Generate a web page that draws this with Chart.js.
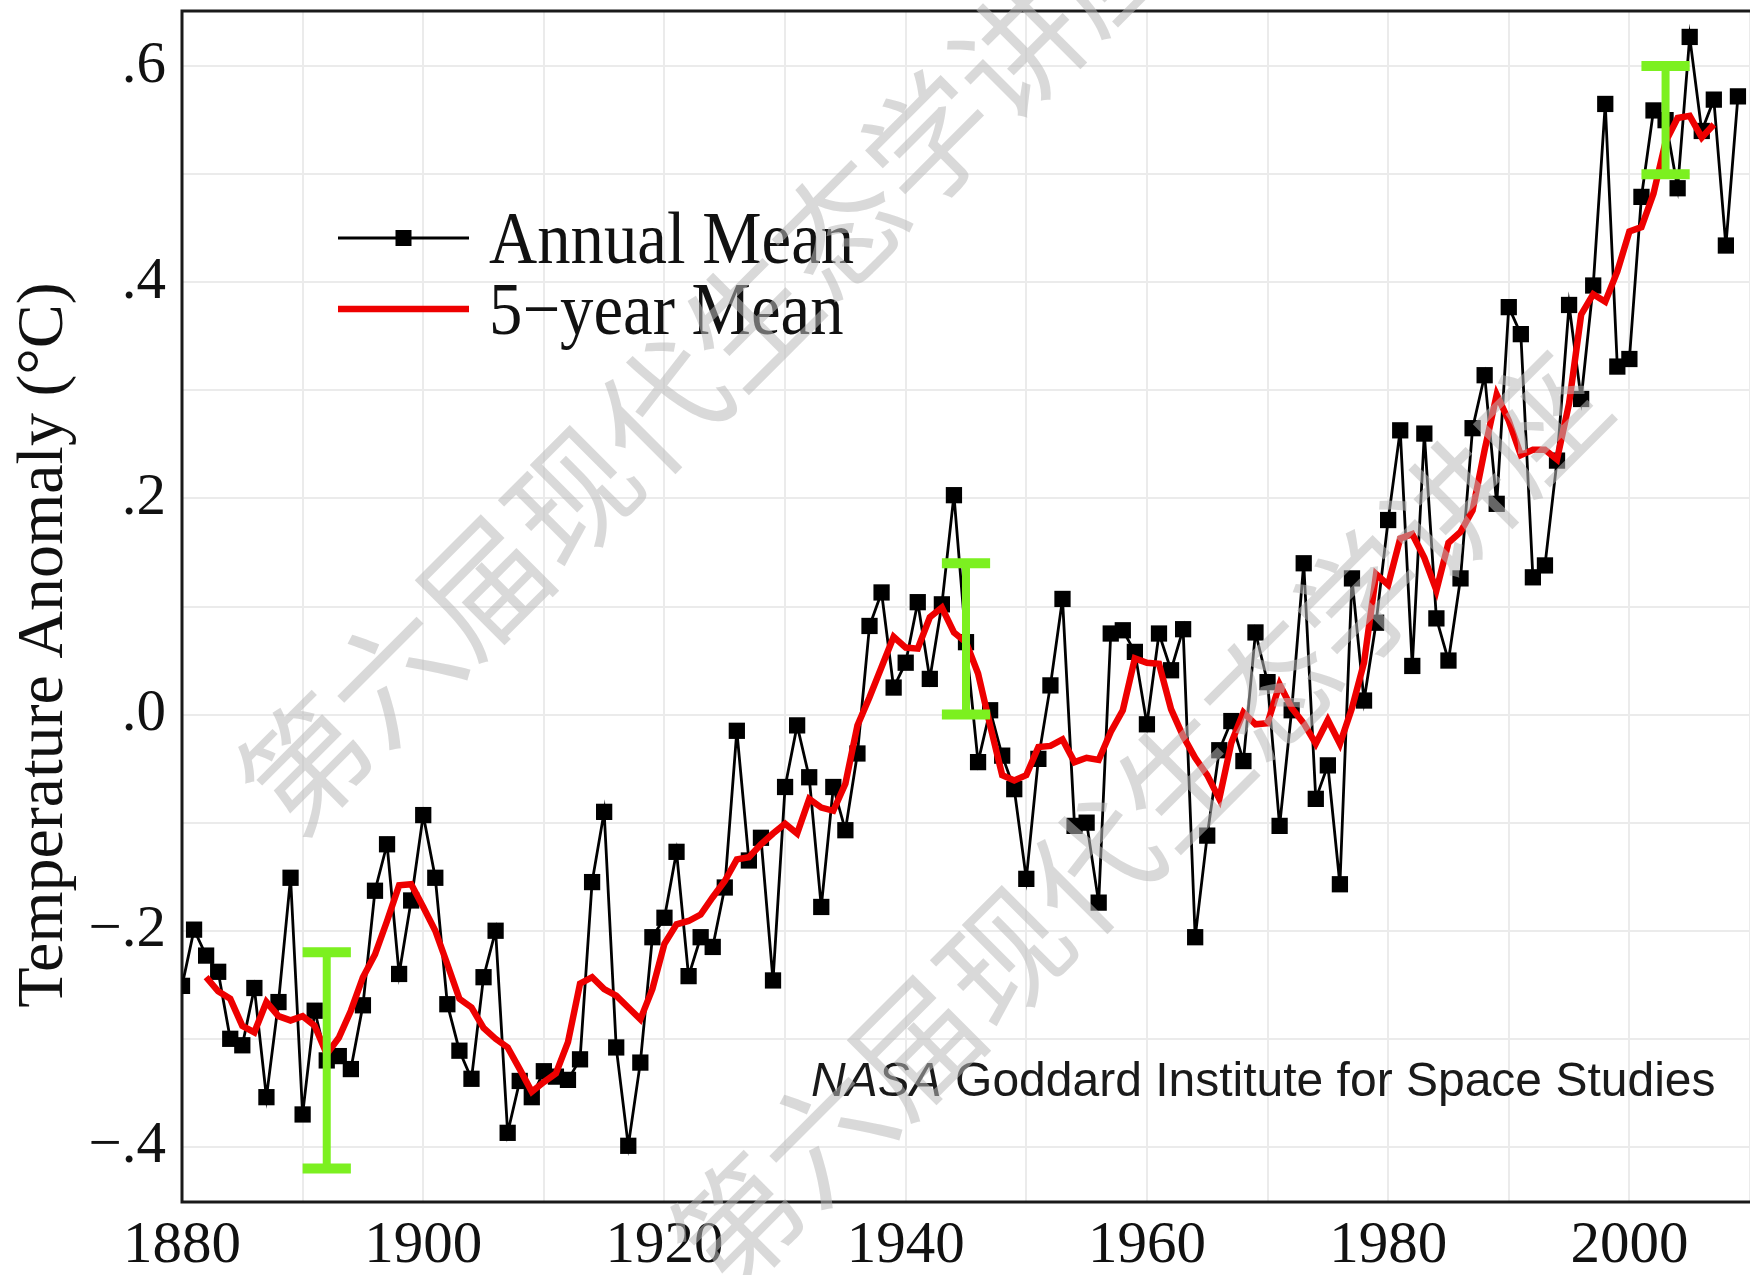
<!DOCTYPE html>
<html>
<head>
<meta charset="utf-8">
<title>Global Temperature Anomaly</title>
<script src="https://cdn.jsdelivr.net/npm/chart.js@4.4.1/dist/chart.umd.min.js"></script>
<style>
  html, body { margin: 0; padding: 0; background: #fff; }
  #wrap { width: 1750px; height: 1275px; }
</style>
</head>
<body>
<div id="wrap"><canvas id="tempChart" width="1750" height="1275"></canvas></div>
<script>
// Annual mean, one value per year starting 1880
const annualStart = 1880;
const annualMean = [
  -0.251, -0.199, -0.223, -0.238, -0.300, -0.306, -0.253, -0.354, -0.266, -0.151,
  -0.370, -0.274, -0.320, -0.316, -0.328, -0.269, -0.163, -0.120, -0.240, -0.172,
  -0.093, -0.151, -0.268, -0.311, -0.337, -0.243, -0.200, -0.387, -0.339, -0.354,
  -0.330, -0.335, -0.338, -0.319, -0.155, -0.090, -0.308, -0.399, -0.322, -0.206,
  -0.188, -0.127, -0.242, -0.206, -0.215, -0.160, -0.015, -0.135, -0.114, -0.246,
  -0.067, -0.010, -0.058, -0.178, -0.067, -0.107, -0.036, 0.082, 0.113, 0.025,
  0.048, 0.104, 0.033, 0.102, 0.203, 0.067, -0.044, 0.004, -0.038, -0.069,
  -0.152, -0.041, 0.027, 0.107, -0.103, -0.100, -0.174, 0.075, 0.078, 0.058,
  -0.009, 0.075, 0.041, 0.079, -0.206, -0.112, -0.033, -0.006, -0.043, 0.076,
  0.030, -0.103, 0.004, 0.140, -0.078, -0.047, -0.157, 0.126, 0.013, 0.085,
  0.180, 0.263, 0.045, 0.260, 0.089, 0.050, 0.126, 0.265, 0.314, 0.195,
  0.377, 0.352, 0.127, 0.138, 0.235, 0.379, 0.292, 0.397, 0.565, 0.322,
  0.329, 0.479, 0.559, 0.550, 0.487, 0.627, 0.540, 0.569, 0.434, 0.572
];

// 5-year mean, starting 1882
const fiveYearStart = 1882;
const fiveYearMean = [
  -0.243, -0.256, -0.263, -0.288, -0.294, -0.266, -0.279, -0.283,
  -0.279, -0.288, -0.314, -0.299, -0.274, -0.243, -0.222, -0.191, -0.158, -0.157,
  -0.178, -0.200, -0.231, -0.263, -0.271, -0.290, -0.300, -0.308, -0.328, -0.349,
  -0.340, -0.332, -0.303, -0.249, -0.243, -0.254, -0.260, -0.271, -0.282, -0.254,
  -0.212, -0.194, -0.191, -0.185, -0.169, -0.154, -0.134, -0.132, -0.120, -0.110,
  -0.101, -0.110, -0.078, -0.086, -0.089, -0.064, -0.010, 0.016, 0.044, 0.072,
  0.062, 0.061, 0.090, 0.099, 0.076, 0.067, 0.038, -0.010, -0.056, -0.061,
  -0.056, -0.030, -0.029, -0.023, -0.044, -0.040, -0.042, -0.016, 0.004, 0.052,
  0.048, 0.047, 0.005, -0.020, -0.040, -0.056, -0.078, -0.026, 0.002, -0.009,
  -0.008, 0.028, 0.006, -0.008, -0.027, -0.005, -0.027, 0.006, 0.048, 0.130,
  0.120, 0.163, 0.167, 0.145, 0.115, 0.159, 0.169, 0.189, 0.245, 0.296,
  0.272, 0.240, 0.245, 0.245, 0.236, 0.288, 0.370, 0.389, 0.382, 0.410,
  0.447, 0.451, 0.482, 0.530, 0.552, 0.554, 0.534, 0.546
];

// uncertainty bars
const errorYears = [1892, 1945, 2003];
const errorLow = [-0.42, 0.0, 0.5];
const errorHigh = [-0.22, 0.14, 0.6];

const xGridYears = [1880, 1890, 1900, 1910, 1920, 1930, 1940, 1950, 1960, 1970, 1980, 1990, 2000, 2010];
const xLabelYears = [1880, 1900, 1920, 1940, 1960, 1980, 2000];
const yGridValues = [-0.4, -0.3, -0.2, -0.1, 0, 0.1, 0.2, 0.3, 0.4, 0.5, 0.6];
const yLabelValues = [-0.4, -0.2, 0, 0.2, 0.4, 0.6];
const yTickLabels = ["\u2212.4", "\u2212.2", ".0", ".2", ".4", ".6"];

const seriesNames = ["Annual Mean", "5\u2212year Mean"];
const yTitle = "Temperature Anomaly (\u00b0C)";
const creditItalic = "NASA";
const creditRest = " Goddard Institute for Space Studies";
const watermarkText = "第六届现代生态学讲座";

const serif = "'Liberation Serif', 'Times New Roman', serif";
const sans = "'Liberation Sans', Arial, sans-serif";

document.addEventListener("DOMContentLoaded", () => {
    // box around the plot (right side runs off the picture)
    const framePlugin = {
        id: "frame",
        beforeDatasetsDraw(chart) {
            const { ctx, chartArea: a } = chart;
            ctx.save();
            ctx.strokeStyle = "#1a1a1a";
            ctx.lineWidth = 3;
            ctx.beginPath();
            ctx.moveTo(a.right + 5, a.top);
            ctx.lineTo(a.left, a.top);
            ctx.lineTo(a.left, a.bottom);
            ctx.lineTo(a.right + 5, a.bottom);
            ctx.stroke();
            ctx.restore();
        }
    };

    const errorBarPlugin = {
        id: "errorBars",
        afterDatasetsDraw(chart) {
            const { ctx, scales: { x, y } } = chart;
            ctx.save();
            ctx.strokeStyle = "#7cf020";
            errorYears.forEach((yr, i) => {
                const px = x.getPixelForValue(yr);
                const top = y.getPixelForValue(errorHigh[i]);
                const bot = y.getPixelForValue(errorLow[i]);
                const half = x.getPixelForValue(yr + 2) - px;
                ctx.lineWidth = 8;
                ctx.beginPath();
                ctx.moveTo(px, top);
                ctx.lineTo(px, bot);
                ctx.stroke();
                ctx.lineWidth = 10;
                ctx.beginPath();
                ctx.moveTo(px - half, top);
                ctx.lineTo(px + half, top);
                ctx.moveTo(px - half, bot);
                ctx.lineTo(px + half, bot);
                ctx.stroke();
            });
            ctx.restore();
        }
    };

    // legend, credit line, axis title and watermark
    const textPlugin = {
        id: "texts",
        afterDraw(chart) {
            const { ctx, chartArea: a } = chart;
            ctx.save();

            // legend inside the plot
            const rows = [a.top + 227, a.top + 298];
            const x0 = a.left + 156, x1 = a.left + 287;
            ctx.strokeStyle = "#000";
            ctx.lineWidth = 3;
            ctx.beginPath();
            ctx.moveTo(x0, rows[0]);
            ctx.lineTo(x1, rows[0]);
            ctx.stroke();
            ctx.fillStyle = "#000";
            ctx.fillRect((x0 + x1) / 2 - 8, rows[0] - 8, 16, 16);
            ctx.strokeStyle = "#ee0000";
            ctx.lineWidth = 6.5;
            ctx.beginPath();
            ctx.moveTo(x0, rows[1]);
            ctx.lineTo(x1, rows[1]);
            ctx.stroke();

            ctx.fillStyle = "#111";
            ctx.font = "75px " + serif;
            ctx.textAlign = "left";
            ctx.textBaseline = "alphabetic";
            seriesNames.forEach((name, i) => {
                ctx.save();
                ctx.translate(a.left + 307, rows[i] + 25);
                ctx.scale(0.89, 1);
                ctx.fillText(name, 0, 0);
                ctx.restore();
            });

            // credit line
            ctx.font = "italic 48px " + sans;
            const cx = a.left + 629, cy = a.bottom - 106;
            ctx.fillStyle = "#1a1a1a";
            ctx.fillText(creditItalic, cx, cy);
            const w = ctx.measureText(creditItalic).width;
            ctx.font = "48px " + sans;
            ctx.fillText(creditRest, cx + w, cy);

            // y axis title
            ctx.save();
            ctx.translate(45, 645);
            ctx.rotate(-Math.PI / 2);
            ctx.font = "66px " + serif;
            ctx.textAlign = "center";
            ctx.textBaseline = "middle";
            ctx.fillStyle = "#111";
            ctx.fillText(yTitle, 0, 0);
            ctx.restore();

            // watermark
            ctx.font = "126px 'Noto Sans CJK SC', sans-serif";
            ctx.fillStyle = "rgba(186, 186, 186, 0.55)";
            ctx.textAlign = "center";
            ctx.textBaseline = "middle";
            [[706, 362], [1138, 822]].forEach(([wx, wy]) => {
                ctx.save();
                ctx.translate(wx, wy);
                ctx.rotate(-Math.PI / 4);
                ctx.fillText(watermarkText, 0, 0);
                ctx.restore();
            });

            ctx.restore();
        }
    };

    const ctx = document.getElementById("tempChart").getContext("2d");
    new Chart(ctx, {
        type: "line",
        data: {
            datasets: [
                {
                    label: seriesNames[1],
                    data: fiveYearMean.map((v, i) => ({ x: fiveYearStart + i, y: v })),
                    borderColor: "#ee0000",
                    borderWidth: 6.5,
                    pointRadius: 0,
                    tension: 0,
                    order: 1
                },
                {
                    label: seriesNames[0],
                    data: annualMean.map((v, i) => ({ x: annualStart + i, y: v })),
                    borderColor: "#000",
                    borderWidth: 2.8,
                    pointStyle: "rect",
                    pointRadius: 11.5,
                    pointBackgroundColor: "#000",
                    pointBorderWidth: 0,
                    tension: 0,
                    order: 2
                }
            ]
        },
        options: {
            responsive: false,
            devicePixelRatio: 1,
            animation: false,
            layout: { autoPadding: false, padding: { top: 11, left: 0, right: 0, bottom: 0 } },
            plugins: {
                legend: { display: false },
                tooltip: { enabled: false }
            },
            scales: {
                x: {
                    type: "linear",
                    min: 1880,
                    max: 2010,
                    afterBuildTicks: (s) => { s.ticks = xGridYears.map(v => ({ value: v })); },
                    afterFit: (s) => {
                        s.height = 73;
                        s.paddingLeft = 0;
                        s.paddingRight = 0;
                    },
                    grid: { color: "#ebebeb", lineWidth: 2, drawTicks: false },
                    border: { display: false },
                    ticks: {
                        autoSkip: false,
                        maxRotation: 0,
                        padding: 9,
                        color: "#111",
                        font: { family: serif, size: 59 },
                        callback: (v) => xLabelYears.includes(v) ? String(v) : ""
                    }
                },
                y: {
                    min: -0.451,
                    max: 0.651,
                    afterBuildTicks: (s) => { s.ticks = yGridValues.map(v => ({ value: v })); },
                    afterFit: (s) => {
                        s.width = 182;
                        s.paddingTop = 0;
                        s.paddingBottom = 0;
                    },
                    grid: { color: "#ebebeb", lineWidth: 2, drawTicks: false },
                    border: { display: false },
                    ticks: {
                        padding: 16,
                        color: "#111",
                        font: { family: serif, size: 59 },
                        callback: (v) => {
                            const k = yLabelValues.findIndex(t => Math.abs(t - v) < 1e-6);
                            return k >= 0 ? yTickLabels[k] : "";
                        }
                    }
                }
            }
        },
        plugins: [framePlugin, errorBarPlugin, textPlugin]
    });
});
</script>
</body>
</html>
